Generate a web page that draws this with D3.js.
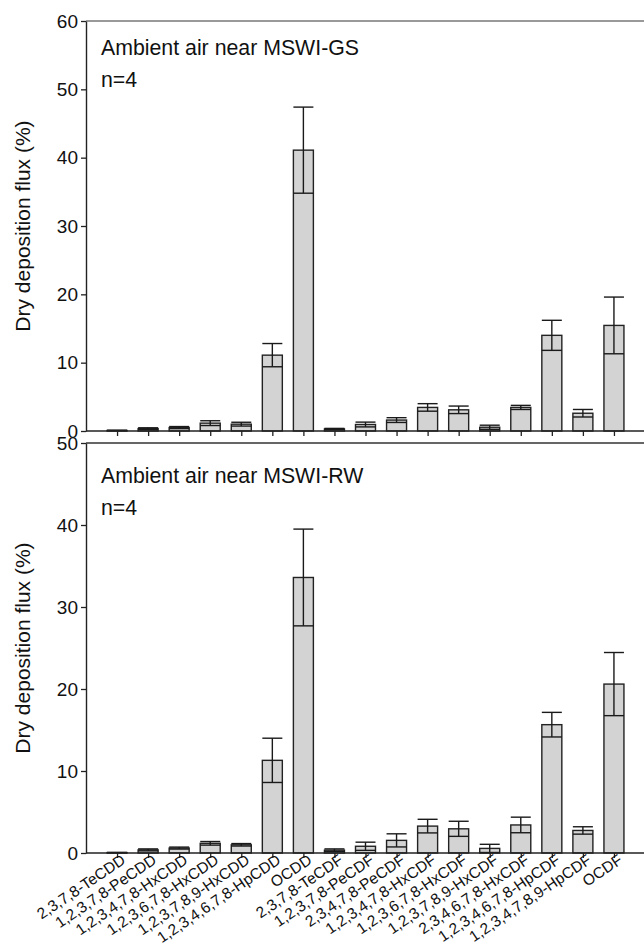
<!DOCTYPE html>
<html>
<head>
<meta charset="utf-8">
<script src="https://cdn.jsdelivr.net/npm/d3@7"></script>
<style>
  html, body { margin: 0; padding: 0; background: #fff; }
  svg { display: block; font-family: "Liberation Sans", Arial, Helvetica, sans-serif; }
</style>
</head>
<body>
<svg id="chart" width="644" height="947"></svg>
<script>
const categories = [
  "2,3,7,8-TeCDD", "1,2,3,7,8-PeCDD", "1,2,3,4,7,8-HxCDD", "1,2,3,6,7,8-HxCDD",
  "1,2,3,7,8,9-HxCDD", "1,2,3,4,6,7,8-HpCDD", "OCDD",
  "2,3,7,8-TeCDF", "1,2,3,7,8-PeCDF", "2,3,4,7,8-PeCDF", "1,2,3,4,7,8-HxCDF",
  "1,2,3,6,7,8-HxCDF", "1,2,3,7,8,9-HxCDF", "2,3,4,6,7,8-HxCDF",
  "1,2,3,4,6,7,8-HpCDF", "1,2,3,4,7,8,9-HpCDF", "OCDF"
];
const gsMean = [0.08, 0.35, 0.5, 1.15, 1.0, 11.1, 41.1, 0.3, 0.95, 1.6, 3.45, 3.1, 0.55, 3.45, 14.0, 2.6, 15.45];
const gsSD   = [0.03, 0.12, 0.15, 0.35, 0.28, 1.7, 6.3, 0.08, 0.35, 0.35, 0.55, 0.55, 0.3, 0.3, 2.2, 0.55, 4.15];
const rwMean = [0.05, 0.38, 0.6, 1.18, 1.0, 11.3, 33.6, 0.35, 0.82, 1.54, 3.28, 2.95, 0.56, 3.42, 15.65, 2.75, 20.6];
const rwSD   = [0.02, 0.12, 0.12, 0.22, 0.15, 2.7, 5.9, 0.15, 0.5, 0.8, 0.83, 0.92, 0.5, 0.95, 1.5, 0.45, 3.85];
const yTicksGS = [0, 10, 20, 30, 40, 50, 60];
const yTicksRW = [0, 10, 20, 30, 40, 50];
const panelLabels = ["Ambient air near MSWI-GS", "Ambient air near MSWI-RW"];
const nLabel = "n=4";
const yTitle = "Dry deposition flux (%)";

const svg = d3.select("#chart");
const axisColor = "#222";
const textColor = "#111";
const x = d3.scalePoint().domain(categories).range([86, 645]).padding(1);
const barW = 20;

const panels = [
  { mean: gsMean, sd: gsSD, ticks: yTicksGS, max: 60, top: 21, bottom: 431, frame: "#777", labels: false, label: panelLabels[0], labY: 55, nY: 87 },
  { mean: rwMean, sd: rwSD, ticks: yTicksRW, max: 50, top: 443, bottom: 853, frame: "#333", labels: true, label: panelLabels[1], labY: 483, nY: 515 }
];

panels.forEach(p => {
  const y = d3.scaleLinear().domain([0, p.max]).range([p.bottom, p.top]);
  const g = svg.append("g");

  g.append("line")
    .attr("x1", 86).attr("x2", 644)
    .attr("y1", p.top).attr("y2", p.top)
    .attr("stroke", p.frame).attr("stroke-width", 1.4);

  const data = categories.map((c, i) => ({ c, m: p.mean[i], s: p.sd[i] }));

  g.selectAll("rect.bar").data(data).join("rect")
    .attr("class", "bar")
    .attr("x", d => x(d.c) - barW / 2)
    .attr("width", barW)
    .attr("y", d => y(d.m))
    .attr("height", d => y(0) - y(d.m))
    .attr("fill", "#d3d3d3")
    .attr("stroke", "#222")
    .attr("stroke-width", 1.4);

  const eb = g.selectAll("g.eb").data(data).join("g").attr("class", "eb")
    .attr("stroke", "#1a1a1a").attr("stroke-width", 1.4);
  eb.append("line")
    .attr("x1", d => x(d.c)).attr("x2", d => x(d.c))
    .attr("y1", d => y(Math.max(0, d.m - d.s))).attr("y2", d => y(d.m + d.s));
  eb.append("line")
    .attr("x1", d => x(d.c) - barW / 2).attr("x2", d => x(d.c) + barW / 2)
    .attr("y1", d => y(d.m + d.s)).attr("y2", d => y(d.m + d.s));
  eb.append("line")
    .attr("x1", d => x(d.c) - barW / 2).attr("x2", d => x(d.c) + barW / 2)
    .attr("y1", d => y(Math.max(0, d.m - d.s))).attr("y2", d => y(Math.max(0, d.m - d.s)));

  const xAxis = g.append("g")
    .attr("transform", `translate(0,${p.bottom})`)
    .call(d3.axisBottom(x).tickSize(5).tickSizeOuter(0));
  xAxis.select(".domain").attr("stroke", axisColor).attr("stroke-width", 1.4)
    .attr("d", `M86,0H644`);
  xAxis.selectAll(".tick line").attr("stroke", axisColor).attr("stroke-width", 1.3);
  if (p.labels) {
    xAxis.selectAll(".tick text")
      .attr("font-size", 15.5)
      .attr("fill", textColor)
      .attr("text-anchor", "end")
      .attr("dy", "0.35em")
      .attr("y", 0)
      .attr("transform", "translate(6,5) rotate(-34)");
  } else {
    xAxis.selectAll(".tick text").remove();
  }

  const yAxis = g.append("g")
    .attr("transform", "translate(86,0)")
    .call(d3.axisLeft(y).tickValues(p.ticks).tickSize(5).tickSizeOuter(0).tickPadding(3));
  yAxis.select(".domain").attr("stroke", axisColor).attr("stroke-width", 1.4);
  yAxis.selectAll(".tick line").attr("stroke", axisColor).attr("stroke-width", 1.3);
  yAxis.selectAll(".tick text").attr("font-size", 19).attr("fill", textColor);

  g.append("text")
    .attr("transform", `translate(30,${(p.top + p.bottom) / 2}) rotate(-90)`)
    .attr("text-anchor", "middle")
    .attr("font-size", 21)
    .attr("fill", textColor)
    .text(yTitle);

  g.append("text").attr("x", 101).attr("y", p.labY)
    .attr("font-size", 21.3).attr("fill", textColor).text(p.label);
  g.append("text").attr("x", 101).attr("y", p.nY)
    .attr("font-size", 21.3).attr("fill", textColor).text(nLabel);
});
</script>
</body>
</html>
